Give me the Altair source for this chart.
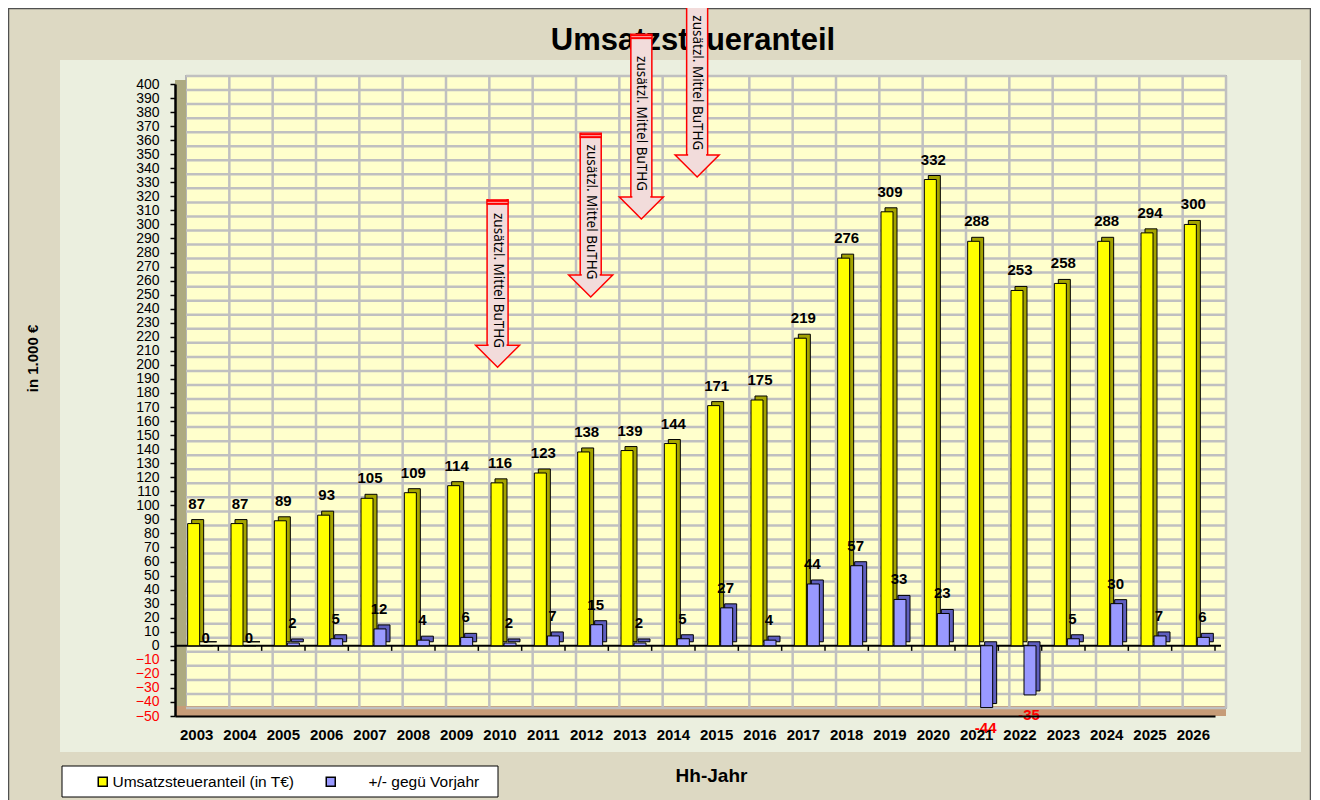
import altair as alt
import pandas as pd

# ---------------- data ----------------
years = [str(y) for y in range(2003, 2027)]
ust = [87, 87, 89, 93, 105, 109, 114, 116, 123, 138, 139, 144, 171, 175,
       219, 276, 309, 332, 288, 253, 258, 288, 294, 300]
delta = [0, 0, 2, 5, 12, 4, 6, 2, 7, 15, 2, 5, 27, 4, 44, 57, 33, 23,
         -44, -35, 5, 30, 7, 6]
y_ticks = list(range(-50, 401, 10))

arrow_x = [2009.9, 2012.07, 2013.25, 2014.55]
arrow_top = [317.5, 365, 435.5, 463.5]
arrow_base = [214, 264, 319.5, 349.5]
arrow_text = "zusätzl. Mittel BuTHG"

S1 = "Umsatzsteueranteil (in T€)"
S2 = "+/- gegü Vorjahr"

# ---------------- style ----------------
FONT = "Liberation Sans"
W, H = 1040, 632
BEIGE = "#DDD9C3"
PANEL = "#EBEFDF"
WALL = "#FFFFCC"
GRID = "#C0C0C0"
HALF = W / 24 / 2

dfy = pd.DataFrame({"year": years, "series": S1, "v": ust})
dfb = pd.DataFrame({"year": years, "series": S2, "v": delta})
ticks_df = pd.DataFrame({"t": y_ticks})
years_df = pd.DataFrame({"year": years})
arrows_df = pd.DataFrame({"ax": arrow_x, "top": arrow_top, "base": arrow_base,
                          "txt": [arrow_text] * len(arrow_x)})
one = pd.DataFrame({"a": [0]})

xscale = alt.Scale(domain=years, paddingInner=0, paddingOuter=0)
xaxis = alt.Axis(title="Hh-Jahr", orient="bottom", labelFont=FONT, labelFontSize=15,
                 labelFontWeight="bold", labelColor="black", labelPadding=11, labelAngle=0,
                 ticks=False, tickSize=0, grid=False, domainColor="black", domainWidth=2,
                 titleFont=FONT, titleFontSize=19, titleFontWeight="bold", titleColor="black",
                 titleX=536, titleY=59, titleAlign="center", titleBaseline="middle", zindex=1)

yscale = alt.Scale(domain=[-50, 400], nice=False, zero=False)
yaxis = alt.Axis(title="in 1.000 €", values=y_ticks, format="d", labelFont=FONT,
                 labelFontSize=14, labelColor=alt.ExprRef(expr="datum.value < 0 ? '#FF0000' : '#000000'"),
                 labelPadding=11, labelOverlap=False, labelFlush=False, labelBound=False,
                 ticks=True, tickSize=5, tickColor="black",
                 tickWidth=1.5, domainColor="black", domainWidth=2.5, grid=False,
                 titleFont=FONT, titleFontSize=15, titleFontWeight="bold", titleColor="black",
                 titleAngle=270, titleX=-143, titleY=274, titleAlign="center",
                 titleBaseline="middle", zindex=1)


def X(f="year"):
    return alt.X(f"{f}:O", scale=xscale, axis=xaxis)


def Y(f):
    return alt.Y(f"{f}:Q", scale=yscale, axis=yaxis)


def YD(v):
    return alt.Y(datum=v, type="quantitative", scale=yscale, axis=yaxis)


leg_common = dict(orient="none", legendY=690, direction="horizontal", title=None,
                  symbolType="square", symbolSize=81, symbolStrokeColor="black",
                  symbolStrokeWidth=1.5, labelFont=FONT, labelFontSize=15.5, labelColor="black",
                  padding=0, labelLimit=0, zindex=1)
leg1 = alt.Legend(legendX=-80, labelOffset=2, **leg_common)
leg2 = alt.Legend(legendX=148, labelOffset=30, **leg_common)

base1 = alt.Chart(one)

outer = base1.mark_rect(fill=BEIGE, stroke="#505050", strokeWidth=1.5).encode(
    x=alt.value(-166.5), x2=alt.value(1135.5), y=alt.value(-75.5), y2=alt.value(730))
panel = base1.mark_rect(fill=PANEL).encode(
    x=alt.value(-115), x2=alt.value(1126), y=alt.value(-24), y2=alt.value(668))
wall = base1.mark_rect(fill=WALL, stroke="#B5B5B5", strokeWidth=2).encode(
    x=alt.value(11), x2=alt.value(W + 11), y=alt.value(-8), y2=alt.value(H - 8))
leftwall = base1.mark_rect(fill="#ADAA80").encode(
    x=alt.value(0), x2=alt.value(11), y=alt.value(-4), y2=alt.value(H - 4))
floor = base1.mark_rect(fill="#C69C78").encode(
    x=alt.value(0), x2=alt.value(W + 11), y=alt.value(H - 10), y2=alt.value(H))

hgrid = alt.Chart(ticks_df).mark_rule(color=GRID, strokeWidth=2.5, yOffset=-8).encode(
    y=Y("t"), x=alt.value(11), x2=alt.value(W + 11))
vgrid = alt.Chart(years_df).mark_rule(color=GRID, strokeWidth=2.5, xOffset=HALF + 11).encode(
    x=X(), y=alt.value(-8), y2=alt.value(H - 8))

zero = base1.mark_rule(color="black", strokeWidth=2).encode(
    y=YD(0), x=alt.value(0), x2=alt.value(W + 6))
zticks = alt.Chart(years_df).mark_rule(color="black", strokeWidth=1.5, xOffset=HALF).encode(
    x=X(), y=YD(0), y2=alt.Y2(datum=-3.6))

ys = alt.Chart(dfy).mark_bar(size=12, xOffset=1, yOffset=-4, y2Offset=-4, fill="#A3A300",
                             stroke="black", strokeWidth=1).encode(
    x=X(), y=Y("v"), y2=alt.Y2(datum=0))
yf = alt.Chart(dfy).mark_bar(size=12, xOffset=-3, stroke="black", strokeWidth=1,
                             opacity=1).encode(
    x=X(), y=Y("v"), y2=alt.Y2(datum=0),
    color=alt.Color("series:N", scale=alt.Scale(domain=[S1], range=["#FFFF00"]), legend=leg1))
bs = alt.Chart(dfb).mark_bar(size=12, xOffset=14, yOffset=-4, y2Offset=-4, fill="#5E5EBE",
                             stroke="black", strokeWidth=1).encode(
    x=X(), y=Y("v"), y2=alt.Y2(datum=0))
bf = alt.Chart(dfb).mark_bar(size=12, xOffset=10, stroke="black", strokeWidth=1,
                             opacity=1).encode(
    x=X(), y=Y("v"), y2=alt.Y2(datum=0),
    fill=alt.Fill("series:N", scale=alt.Scale(domain=[S2], range=["#9999FF"]), legend=leg2))

lab_kw = dict(font=FONT, fontSize=15, fontWeight="bold", baseline="middle")
ylab = alt.Chart(dfy).transform_calculate(lbl="toString(round(datum.v) + 0)").mark_text(
    dy=-20, color="black", **lab_kw).encode(x=X(), y=Y("v"), text="lbl:N")
bpos = alt.Chart(dfb).transform_filter("datum.v > 0").transform_calculate(
    lbl="toString(round(datum.v) + 0)").mark_text(dy=-20, xOffset=9, color="black", **lab_kw).encode(
    x=X(), y=Y("v"), text="lbl:N")
bzero = alt.Chart(dfb).transform_filter("datum.v == 0").transform_calculate(
    lbl="toString(round(datum.v) + 0)").mark_text(dy=-8, xOffset=9, color="black", **lab_kw).encode(
    x=X(), y=Y("v"), text="lbl:N")
bneg = alt.Chart(dfb).transform_filter("datum.v < 0").transform_calculate(
    lbl="toString(round(datum.v) + 0)").mark_text(dy=20, xOffset=9, color="#FF0000", **lab_kw).encode(
    x=X(), y=Y("v"), text="lbl:N")

legbox = base1.mark_rect(fill="white", stroke="black", strokeWidth=1).encode(
    x=alt.value(-113), x2=alt.value(323), y=alt.value(682), y2=alt.value(713))

title = base1.mark_text(text="Umsatzsteueranteil", font=FONT, fontSize=31, fontWeight="bold",
                        baseline="alphabetic", align="center", color="black").encode(
    x=alt.value(518), y=alt.value(-34))

main = alt.layer(outer, panel, wall, leftwall, floor, hgrid, vgrid, zero, zticks,
                 ys, yf, bs, bf, ylab, bpos, bzero, bneg, legbox, title)

# ---------------- arrows ----------------
AX = alt.X("ax:Q", scale=alt.Scale(domain=[2002.5, 2026.5], nice=False, zero=False), axis=None)
PINK = "#F2DCDB"
ach = alt.Chart(arrows_df)
shaft = ach.mark_bar(size=21, fill=PINK, stroke="#FF0000", strokeWidth=1.5).encode(
    x=AX, y=Y("top"), y2=alt.Y2("base"))
head = ach.mark_point(shape="M-1,0L1,0L0,1Z", size=1936, filled=True, fill=PINK,
                      stroke="#FF0000", strokeWidth=1.5, opacity=1).encode(x=AX, y=Y("base"))
cover = ach.mark_bar(size=18, fill=PINK, y2Offset=2).encode(x=AX, y=Y("top"), y2=alt.Y2("base"))
cap = ach.mark_bar(size=22, fill="#FF0000", y2Offset=5).encode(x=AX, y=Y("top"), y2=alt.Y2("top"))
capline = ach.mark_bar(size=20, fill="#FFB0B0", yOffset=2, y2Offset=3).encode(
    x=AX, y=Y("top"), y2=alt.Y2("top"))
atext = ach.transform_calculate(mid="(datum.top + datum.base) / 2").mark_text(
    angle=90, font="Noto Sans", fontSize=13.5, align="center", baseline="middle", dx=8,
    color="black").encode(x=AX, y=Y("mid"), text="txt:N")
arrows = alt.layer(shaft, head, cover, cap, capline, atext)

chart = alt.layer(main, arrows).resolve_scale(x="independent").properties(
    width=W, height=H,
    padding={"left": 167, "top": 76, "right": 96, "bottom": 84},
    autosize=alt.AutoSizeParams(type="none"),
    background=BEIGE,
).configure_view(strokeWidth=0)

chart.save("out.html", embed_options={"renderer": "svg", "actions": False})
